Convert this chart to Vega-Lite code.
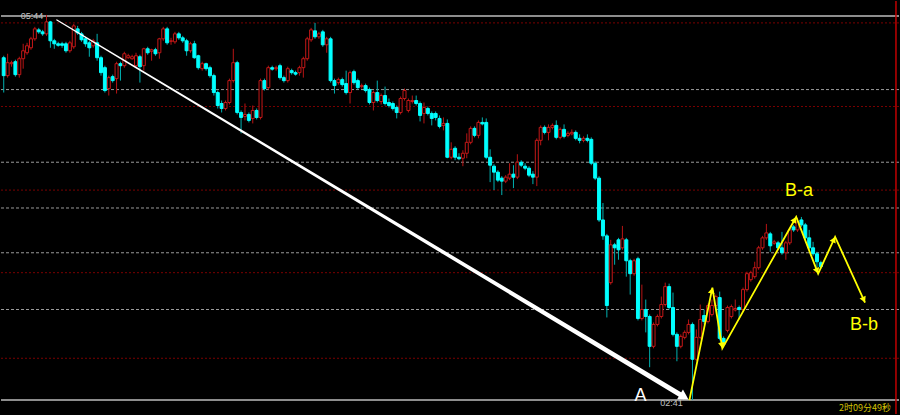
{
"$schema": "https://vega.github.io/schema/vega-lite/v6.json",
"width": 900, "height": 415,
"autosize": {"type": "fit", "contains": "padding"},
"padding": 0,
"background": "#000000",
"config": {"view": {"stroke": null}, "scale": {"continuousPadding": 0}},
"datasets": {
"candles": [
{"i":0,"o":57,"h":55,"l":92,"c":75},{"i":1,"o":75,"h":53,"l":77,"c":62},{"i":2,"o":63,"h":60,"l":66,"c":62},{"i":3,"o":61,"h":59,"l":76,"c":74},{"i":4,"o":74,"h":56,"l":77,"c":58},
{"i":5,"o":58,"h":43,"l":68,"c":50},{"i":6,"o":52,"h":42,"l":54,"c":45},{"i":7,"o":47,"h":36,"l":49,"c":38},{"i":8,"o":38,"h":26,"l":40,"c":28},{"i":9,"o":29,"h":27,"l":33,"c":31},
{"i":10,"o":31,"h":29,"l":35,"c":33},{"i":11,"o":33,"h":14,"l":35,"c":21},{"i":12,"o":21,"h":20,"l":47,"c":40},{"i":13,"o":40,"h":38,"l":48,"c":43},{"i":14,"o":43,"h":41,"l":46,"c":44.5},
{"i":15,"o":43,"h":41,"l":47,"c":44.5},{"i":16,"o":43,"h":41,"l":52,"c":50},{"i":17,"o":50,"h":40,"l":52,"c":42},{"i":18,"o":46,"h":23,"l":48,"c":25},{"i":19,"o":28,"h":25,"l":34,"c":32},
{"i":20,"o":33,"h":31,"l":41,"c":39},{"i":21,"o":38,"h":36,"l":46,"c":43},{"i":22,"o":42,"h":40,"l":56,"c":47},{"i":23,"o":45,"h":38,"l":47,"c":40},{"i":24,"o":42,"h":33,"l":60,"c":57},
{"i":25,"o":57,"h":55,"l":75,"c":72},{"i":26,"o":67,"h":65,"l":92,"c":90},{"i":27,"o":88,"h":75,"l":95,"c":77},{"i":28,"o":76,"h":74,"l":82,"c":80},{"i":29,"o":78,"h":61,"l":93,"c":63},
{"i":30,"o":63,"h":61,"l":80,"c":65},{"i":31,"o":65,"h":51,"l":67,"c":53},{"i":32,"o":57,"h":53,"l":58,"c":55},{"i":33,"o":58,"h":54,"l":59,"c":56},{"i":34,"o":65,"h":52,"l":67,"c":55},
{"i":35,"o":56,"h":54,"l":82,"c":66},{"i":36,"o":65,"h":47,"l":70,"c":48},{"i":37,"o":48,"h":46,"l":54,"c":52},{"i":38,"o":50.5,"h":48,"l":60,"c":49},{"i":39,"o":49,"h":47,"l":55,"c":53},
{"i":40,"o":52,"h":37,"l":58,"c":38},{"i":41,"o":38,"h":26,"l":40,"c":28},{"i":42,"o":28,"h":26,"l":44,"c":42},{"i":43,"o":40.5,"h":37,"l":44,"c":40},{"i":44,"o":41,"h":31,"l":43,"c":33},
{"i":45,"o":33,"h":31,"l":39,"c":37},{"i":46,"o":37,"h":35,"l":42,"c":40},{"i":47,"o":40,"h":38,"l":55,"c":50},{"i":48,"o":50,"h":41,"l":52,"c":43},{"i":49,"o":43,"h":40,"l":58,"c":57},
{"i":50,"o":55,"h":54,"l":69,"c":67},{"i":51,"o":68,"h":61,"l":70,"c":63},{"i":52,"o":63,"h":62,"l":70,"c":68},{"i":53,"o":67,"h":65,"l":77,"c":75},{"i":54,"o":75,"h":73,"l":95,"c":92},
{"i":55,"o":92,"h":90,"l":108,"c":105},{"i":56,"o":103,"h":100,"l":112,"c":108},{"i":57,"o":108,"h":100,"l":110,"c":102},{"i":58,"o":102,"h":78,"l":104,"c":80},{"i":59,"o":80,"h":48,"l":82,"c":62},
{"i":60,"o":62,"h":60,"l":114,"c":112},{"i":61,"o":112,"h":110,"l":133,"c":117},{"i":62,"o":116,"h":103,"l":120,"c":114},{"i":63,"o":114,"h":112,"l":122,"c":120},{"i":64,"o":118,"h":105,"l":123,"c":110},
{"i":65,"o":110,"h":108,"l":119,"c":117},{"i":66,"o":117,"h":78,"l":119,"c":80},{"i":67,"o":80,"h":78,"l":90,"c":88},{"i":68,"o":87,"h":65,"l":89,"c":67},{"i":69,"o":67,"h":65,"l":70,"c":68.5},
{"i":70,"o":68,"h":65,"l":70,"c":67},{"i":71,"o":65,"h":63,"l":79,"c":77},{"i":72,"o":77,"h":75,"l":82,"c":80},{"i":73,"o":80,"h":66,"l":82,"c":68},{"i":74,"o":70,"h":68,"l":74,"c":72},
{"i":75,"o":72,"h":70,"l":75,"c":73.5},{"i":76,"o":72,"h":65,"l":75,"c":67},{"i":77,"o":67,"h":56,"l":77,"c":58},{"i":78,"o":58,"h":36,"l":60,"c":38},{"i":79,"o":39,"h":27,"l":41,"c":29},
{"i":80,"o":30,"h":22,"l":38,"c":36},{"i":81,"o":36,"h":31,"l":38,"c":33},{"i":82,"o":31,"h":29,"l":46,"c":44},{"i":83,"o":44,"h":36,"l":52,"c":38},{"i":84,"o":38,"h":36,"l":82,"c":80},
{"i":85,"o":80,"h":78,"l":93,"c":85},{"i":86,"o":82,"h":77,"l":84,"c":79},{"i":87,"o":79,"h":77,"l":86,"c":84},{"i":88,"o":83,"h":70,"l":94,"c":92},{"i":89,"o":92,"h":70,"l":103,"c":72},
{"i":90,"o":71,"h":69,"l":84,"c":82},{"i":91,"o":80,"h":78,"l":89,"c":87},{"i":92,"o":86,"h":83,"l":88,"c":85},{"i":93,"o":85,"h":83,"l":92,"c":90},{"i":94,"o":89,"h":87,"l":104,"c":102},
{"i":95,"o":102,"h":90,"l":110,"c":92},{"i":96,"o":92,"h":80,"l":102,"c":100},{"i":97,"o":101,"h":93,"l":104,"c":95},{"i":98,"o":95,"h":86,"l":105,"c":103},{"i":99,"o":102,"h":98,"l":107,"c":105},
{"i":100,"o":103,"h":101,"l":110,"c":108},{"i":101,"o":107,"h":105,"l":118,"c":112},{"i":102,"o":112,"h":96,"l":114,"c":98},{"i":103,"o":98,"h":88,"l":100,"c":90},{"i":104,"o":110,"h":98,"l":112,"c":100},
{"i":105,"o":101,"h":95,"l":103,"c":100},{"i":106,"o":100,"h":95,"l":105,"c":103},{"i":107,"o":103,"h":101,"l":121,"c":115},{"i":108,"o":113,"h":102,"l":123,"c":107},{"i":109,"o":108,"h":106,"l":115,"c":113},
{"i":110,"o":113,"h":111,"l":125,"c":118},{"i":111,"o":113,"h":111,"l":120,"c":117},{"i":112,"o":118,"h":115,"l":128,"c":126},{"i":113,"o":125,"h":117,"l":130,"c":123},{"i":114,"o":123,"h":119,"l":158,"c":157},
{"i":115,"o":157,"h":142,"l":159,"c":149},{"i":116,"o":148,"h":146,"l":160,"c":157},{"i":117,"o":157,"h":153,"l":160,"c":158.5},{"i":118,"o":158,"h":150,"l":166,"c":153},{"i":119,"o":153,"h":133,"l":158,"c":142},
{"i":120,"o":142,"h":126,"l":144,"c":128},{"i":121,"o":128,"h":126,"l":137,"c":135},{"i":122,"o":135,"h":120,"l":138,"c":122},{"i":123,"o":122,"h":117,"l":125,"c":123.5},{"i":124,"o":122,"h":118,"l":159,"c":157},
{"i":125,"o":157,"h":149,"l":182,"c":165},{"i":126,"o":166,"h":164,"l":190,"c":172},{"i":127,"o":172,"h":170,"l":182,"c":180},{"i":128,"o":178,"h":176,"l":195,"c":181},{"i":129,"o":181,"h":175,"l":183,"c":177},
{"i":130,"o":178,"h":163,"l":180,"c":174},{"i":131,"o":174,"h":165,"l":188,"c":177},{"i":132,"o":177,"h":154,"l":179,"c":162},{"i":133,"o":162,"h":160,"l":167,"c":165},{"i":134,"o":166,"h":163,"l":170,"c":168},
{"i":135,"o":168,"h":166,"l":177,"c":175},{"i":136,"o":174,"h":171,"l":184,"c":177},{"i":137,"o":177,"h":138,"l":186,"c":140},{"i":138,"o":140,"h":125,"l":145,"c":127},{"i":139,"o":127,"h":125,"l":134,"c":132},
{"i":140,"o":132,"h":124,"l":140,"c":127},{"i":141,"o":127,"h":123,"l":129,"c":125},{"i":142,"o":125,"h":120,"l":139,"c":137},{"i":143,"o":137,"h":127,"l":139,"c":129},{"i":144,"o":129,"h":124,"l":138,"c":136},
{"i":145,"o":135,"h":131,"l":137,"c":133},{"i":146,"o":133.5,"h":129,"l":135,"c":132},{"i":147,"o":132,"h":130,"l":140,"c":138},{"i":148,"o":138,"h":134,"l":143,"c":140},{"i":149,"o":140,"h":136,"l":142,"c":138},
{"i":150,"o":138,"h":134,"l":142,"c":140},{"i":151,"o":139,"h":137,"l":165,"c":163},{"i":152,"o":163,"h":161,"l":180,"c":178},{"i":153,"o":178,"h":176,"l":222,"c":220},{"i":154,"o":220,"h":203,"l":240,"c":236},
{"i":155,"o":236,"h":234,"l":318,"c":306},{"i":156,"o":283,"h":240,"l":285,"c":245},{"i":157,"o":245,"h":243,"l":265,"c":248},{"i":158,"o":240,"h":238,"l":260,"c":250},{"i":159,"o":248,"h":226,"l":250,"c":239},
{"i":160,"o":240,"h":238,"l":277,"c":261},{"i":161,"o":261,"h":259,"l":295,"c":274},{"i":162,"o":274,"h":259,"l":276,"c":261},{"i":163,"o":259,"h":257,"l":321,"c":319},{"i":164,"o":319,"h":285,"l":321,"c":310},
{"i":165,"o":310,"h":300,"l":333,"c":317},{"i":166,"o":317,"h":315,"l":368,"c":347},{"i":167,"o":347,"h":323,"l":349,"c":325},{"i":168,"o":325,"h":315,"l":327,"c":317},{"i":169,"o":317,"h":297,"l":319,"c":305},
{"i":170,"o":305,"h":283,"l":307,"c":287},{"i":171,"o":287,"h":284,"l":310,"c":308},{"i":172,"o":308,"h":293,"l":337,"c":335},{"i":173,"o":335,"h":333,"l":362,"c":347},{"i":174,"o":347,"h":335,"l":349,"c":337},
{"i":175,"o":338,"h":331,"l":340,"c":333},{"i":176,"o":333,"h":320,"l":335,"c":325},{"i":177,"o":325,"h":323,"l":401,"c":360},{"i":178,"o":360,"h":330,"l":362,"c":338},{"i":179,"o":338,"h":305,"l":340,"c":320},
{"i":180,"o":316,"h":310,"l":325,"c":322},{"i":181,"o":322,"h":304,"l":324,"c":306},{"i":182,"o":315,"h":300,"l":317,"c":306},{"i":183,"o":306,"h":295,"l":308,"c":297},{"i":184,"o":298,"h":292,"l":341,"c":339},
{"i":185,"o":339,"h":337,"l":348,"c":345},{"i":186,"o":331,"h":306,"l":333,"c":308},{"i":187,"o":317,"h":305,"l":319,"c":307},{"i":188,"o":310.5,"h":300,"l":312,"c":309},{"i":189,"o":308,"h":306,"l":320,"c":310},
{"i":190,"o":310,"h":288,"l":312,"c":290},{"i":191,"o":290,"h":272,"l":292,"c":274},{"i":192,"o":280,"h":271,"l":282,"c":273},{"i":193,"o":277,"h":262,"l":279,"c":268},{"i":194,"o":268,"h":246,"l":270,"c":248},
{"i":195,"o":248,"h":236,"l":250,"c":238},{"i":196,"o":238,"h":224,"l":240,"c":233},{"i":197,"o":234,"h":232,"l":252,"c":246},{"i":198,"o":243.5,"h":240,"l":245,"c":242},{"i":199,"o":243,"h":241,"l":250,"c":248},
{"i":200,"o":248,"h":232,"l":255,"c":253},{"i":201,"o":253,"h":241,"l":260,"c":243},{"i":202,"o":243,"h":228,"l":245,"c":230},{"i":203,"o":227,"h":225,"l":232,"c":230},{"i":204,"o":230,"h":218,"l":232,"c":222},
{"i":205,"o":220,"h":217,"l":227,"c":225},{"i":206,"o":225,"h":223,"l":240,"c":238},{"i":207,"o":238,"h":230,"l":250,"c":248},{"i":208,"o":248,"h":242,"l":256,"c":254},{"i":209,"o":254,"h":252,"l":268,"c":262},
{"i":210,"o":263,"h":261,"l":269,"c":267}
],
"levels": [
{"p":15,"kind":"solid"},{"p":401,"kind":"solid"},
{"p":89,"kind":"fib"},{"p":162,"kind":"fib"},{"p":208,"kind":"fib"},{"p":253,"kind":"fib"},{"p":310,"kind":"fib"},
{"p":22,"kind":"grid"},{"p":106,"kind":"grid"},{"p":190,"kind":"grid"},{"p":273,"kind":"grid"},{"p":359,"kind":"grid"}
],
"edge": [{"i":229.3}],
"trend": [{"i":13.66,"p":19},{"i":174.7,"p":397.5}],
"trendHead": [{"i":174.89,"p":397.9}],
"wave": [{"i":176.22,"p":401},{"i":182.12,"p":288},{"i":184.68,"p":349},{"i":203.66,"p":217},{"i":209.3,"p":274},{"i":213.66,"p":237},{"i":221.35,"p":303}],
"heads": [{"seg":1,"i":181.97,"p":290.9},{"seg":2,"i":184.56,"p":346},{"seg":3,"i":203.27,"p":219.6},{"seg":4,"i":209.02,"p":271.2},{"seg":5,"i":213.33,"p":239.7},{"seg":6,"i":221.04,"p":300.3}],
"labels": [
{"i":163.66,"p":397,"text":"A","role":"wave_white"},
{"i":204.4,"p":191,"text":"B-a","role":"wave_yellow"},
{"i":221.1,"p":326,"text":"B-b","role":"wave_yellow"},
{"i":7.25,"p":15,"text":"05:44","role":"time"},
{"i":171.6,"p":403.5,"text":"02:41","role":"time"},
{"i":221.35,"p":409,"text":"2时09分49秒","role":"timer"}
]
},
"layer": [
{"data": {"name": "levels"}, "transform": [{"filter": "datum.kind == 'grid'"}],
 "mark": {"type": "rule", "color": "#7a0000", "strokeWidth": 1, "strokeDash": [2, 2]},
 "encoding": {"y": {"field": "p", "type": "quantitative", "scale": {"domain": [415, 0], "nice": false, "zero": false, "padding": 0}, "axis": null}}},
{"data": {"name": "levels"}, "transform": [{"filter": "datum.kind == 'fib'"}],
 "mark": {"type": "rule", "color": "#9a9a9a", "strokeWidth": 1, "strokeDash": [3, 2]},
 "encoding": {"y": {"field": "p", "type": "quantitative", "scale": {"domain": [415, 0], "nice": false, "zero": false, "padding": 0}, "axis": null}}},
{"data": {"name": "levels"}, "transform": [{"filter": "datum.kind == 'solid'"}],
 "mark": {"type": "rule", "color": "#bcbcbc", "strokeWidth": 1.5},
 "encoding": {"y": {"field": "p", "type": "quantitative", "scale": {"domain": [415, 0], "nice": false, "zero": false, "padding": 0}, "axis": null}}},
{"data": {"name": "edge"},
 "mark": {"type": "rule", "color": "#c00000", "strokeWidth": 1.5},
 "encoding": {"x": {"field": "i", "type": "quantitative", "scale": {"domain": [-0.7, 230.08], "nice": false, "zero": false, "padding": 0}, "axis": null}}},
{"data": {"name": "candles"},
 "mark": {"type": "rule", "strokeWidth": 1},
 "encoding": {
  "x": {"field": "i", "type": "quantitative", "scale": {"domain": [-0.7, 230.08], "nice": false, "zero": false, "padding": 0}, "axis": null},
  "y": {"field": "h", "type": "quantitative", "scale": {"domain": [415, 0], "nice": false, "zero": false, "padding": 0}, "axis": null},
  "y2": {"field": "l"},
  "color": {"condition": {"test": "datum.c > datum.o", "value": "#00b0b0"}, "value": "#b81414"}}},
{"data": {"name": "candles"},
 "mark": {"type": "bar", "size": 3, "strokeWidth": 1},
 "encoding": {
  "x": {"field": "i", "type": "quantitative", "scale": {"domain": [-0.7, 230.08], "nice": false, "zero": false, "padding": 0}, "axis": null},
  "y": {"field": "o", "type": "quantitative", "scale": {"domain": [415, 0], "nice": false, "zero": false, "padding": 0}, "axis": null},
  "y2": {"field": "c"},
  "fill": {"condition": {"test": "datum.c > datum.o", "value": "#00ffff"}, "value": "#000000"},
  "stroke": {"condition": {"test": "datum.c > datum.o", "value": "#00ffff"}, "value": "#c41818"}}},
{"data": {"name": "trend"},
 "mark": {"type": "trail", "color": "#ffffff"},
 "encoding": {
  "x": {"field": "i", "type": "quantitative", "scale": {"domain": [-0.7, 230.08], "nice": false, "zero": false, "padding": 0}, "axis": null},
  "y": {"field": "p", "type": "quantitative", "scale": {"domain": [415, 0], "nice": false, "zero": false, "padding": 0}, "axis": null},
  "size": {"field": "i", "type": "quantitative", "scale": {"domain": [13.66, 174.7], "range": [1.2, 5]}, "legend": null}}},
{"data": {"name": "trendHead"},
 "mark": {"type": "point", "shape": "triangle-right", "filled": true, "size": 130, "angle": 31, "color": "#ffffff", "opacity": 1},
 "encoding": {
  "x": {"field": "i", "type": "quantitative", "scale": {"domain": [-0.7, 230.08], "nice": false, "zero": false, "padding": 0}, "axis": null},
  "y": {"field": "p", "type": "quantitative", "scale": {"domain": [415, 0], "nice": false, "zero": false, "padding": 0}, "axis": null}}},
{"data": {"name": "wave"},
 "mark": {"type": "line", "color": "#ffff00", "strokeWidth": 1.8},
 "encoding": {
  "x": {"field": "i", "type": "quantitative", "scale": {"domain": [-0.7, 230.08], "nice": false, "zero": false, "padding": 0}, "axis": null},
  "y": {"field": "p", "type": "quantitative", "scale": {"domain": [415, 0], "nice": false, "zero": false, "padding": 0}, "axis": null}}},
{"data": {"name": "heads"}, "transform": [{"filter": "datum.seg == 1"}],
 "mark": {"type": "point", "shape": "triangle-right", "filled": true, "size": 45, "angle": -78.5, "color": "#ffff00", "opacity": 1},
 "encoding": {"x": {"field": "i", "type": "quantitative", "scale": {"domain": [-0.7, 230.08], "nice": false, "zero": false, "padding": 0}, "axis": null},
  "y": {"field": "p", "type": "quantitative", "scale": {"domain": [415, 0], "nice": false, "zero": false, "padding": 0}, "axis": null}}},
{"data": {"name": "heads"}, "transform": [{"filter": "datum.seg == 2"}],
 "mark": {"type": "point", "shape": "triangle-right", "filled": true, "size": 45, "angle": 80.7, "color": "#ffff00", "opacity": 1},
 "encoding": {"x": {"field": "i", "type": "quantitative", "scale": {"domain": [-0.7, 230.08], "nice": false, "zero": false, "padding": 0}, "axis": null},
  "y": {"field": "p", "type": "quantitative", "scale": {"domain": [415, 0], "nice": false, "zero": false, "padding": 0}, "axis": null}}},
{"data": {"name": "heads"}, "transform": [{"filter": "datum.seg == 3"}],
 "mark": {"type": "point", "shape": "triangle-right", "filled": true, "size": 45, "angle": -60.7, "color": "#ffff00", "opacity": 1},
 "encoding": {"x": {"field": "i", "type": "quantitative", "scale": {"domain": [-0.7, 230.08], "nice": false, "zero": false, "padding": 0}, "axis": null},
  "y": {"field": "p", "type": "quantitative", "scale": {"domain": [415, 0], "nice": false, "zero": false, "padding": 0}, "axis": null}}},
{"data": {"name": "heads"}, "transform": [{"filter": "datum.seg == 4"}],
 "mark": {"type": "point", "shape": "triangle-right", "filled": true, "size": 45, "angle": 68.9, "color": "#ffff00", "opacity": 1},
 "encoding": {"x": {"field": "i", "type": "quantitative", "scale": {"domain": [-0.7, 230.08], "nice": false, "zero": false, "padding": 0}, "axis": null},
  "y": {"field": "p", "type": "quantitative", "scale": {"domain": [415, 0], "nice": false, "zero": false, "padding": 0}, "axis": null}}},
{"data": {"name": "heads"}, "transform": [{"filter": "datum.seg == 5"}],
 "mark": {"type": "point", "shape": "triangle-right", "filled": true, "size": 45, "angle": -65.3, "color": "#ffff00", "opacity": 1},
 "encoding": {"x": {"field": "i", "type": "quantitative", "scale": {"domain": [-0.7, 230.08], "nice": false, "zero": false, "padding": 0}, "axis": null},
  "y": {"field": "p", "type": "quantitative", "scale": {"domain": [415, 0], "nice": false, "zero": false, "padding": 0}, "axis": null}}},
{"data": {"name": "heads"}, "transform": [{"filter": "datum.seg == 6"}],
 "mark": {"type": "point", "shape": "triangle-right", "filled": true, "size": 45, "angle": 65.6, "color": "#ffff00", "opacity": 1},
 "encoding": {"x": {"field": "i", "type": "quantitative", "scale": {"domain": [-0.7, 230.08], "nice": false, "zero": false, "padding": 0}, "axis": null},
  "y": {"field": "p", "type": "quantitative", "scale": {"domain": [415, 0], "nice": false, "zero": false, "padding": 0}, "axis": null}}},
{"data": {"name": "labels"}, "transform": [{"filter": "datum.role == 'wave_white'"}],
 "mark": {"type": "text", "font": "Liberation Sans", "fontSize": 18, "color": "#ffffff", "align": "center", "baseline": "middle"},
 "encoding": {"x": {"field": "i", "type": "quantitative", "scale": {"domain": [-0.7, 230.08], "nice": false, "zero": false, "padding": 0}, "axis": null},
  "y": {"field": "p", "type": "quantitative", "scale": {"domain": [415, 0], "nice": false, "zero": false, "padding": 0}, "axis": null},
  "text": {"field": "text"}}},
{"data": {"name": "labels"}, "transform": [{"filter": "datum.role == 'wave_yellow'"}],
 "mark": {"type": "text", "font": "Liberation Sans", "fontSize": 18, "color": "#ffff00", "align": "center", "baseline": "middle"},
 "encoding": {"x": {"field": "i", "type": "quantitative", "scale": {"domain": [-0.7, 230.08], "nice": false, "zero": false, "padding": 0}, "axis": null},
  "y": {"field": "p", "type": "quantitative", "scale": {"domain": [415, 0], "nice": false, "zero": false, "padding": 0}, "axis": null},
  "text": {"field": "text"}}},
{"data": {"name": "labels"}, "transform": [{"filter": "datum.role == 'time'"}],
 "mark": {"type": "text", "font": "Liberation Sans", "fontSize": 9, "color": "#c0c0c0", "align": "center", "baseline": "middle"},
 "encoding": {"x": {"field": "i", "type": "quantitative", "scale": {"domain": [-0.7, 230.08], "nice": false, "zero": false, "padding": 0}, "axis": null},
  "y": {"field": "p", "type": "quantitative", "scale": {"domain": [415, 0], "nice": false, "zero": false, "padding": 0}, "axis": null},
  "text": {"field": "text"}}},
{"data": {"name": "labels"}, "transform": [{"filter": "datum.role == 'timer'"}],
 "mark": {"type": "text", "font": "Noto Sans CJK SC", "fontSize": 9, "color": "#d2c200", "align": "center", "baseline": "middle"},
 "encoding": {"x": {"field": "i", "type": "quantitative", "scale": {"domain": [-0.7, 230.08], "nice": false, "zero": false, "padding": 0}, "axis": null},
  "y": {"field": "p", "type": "quantitative", "scale": {"domain": [415, 0], "nice": false, "zero": false, "padding": 0}, "axis": null},
  "text": {"field": "text"}}}
]
}
